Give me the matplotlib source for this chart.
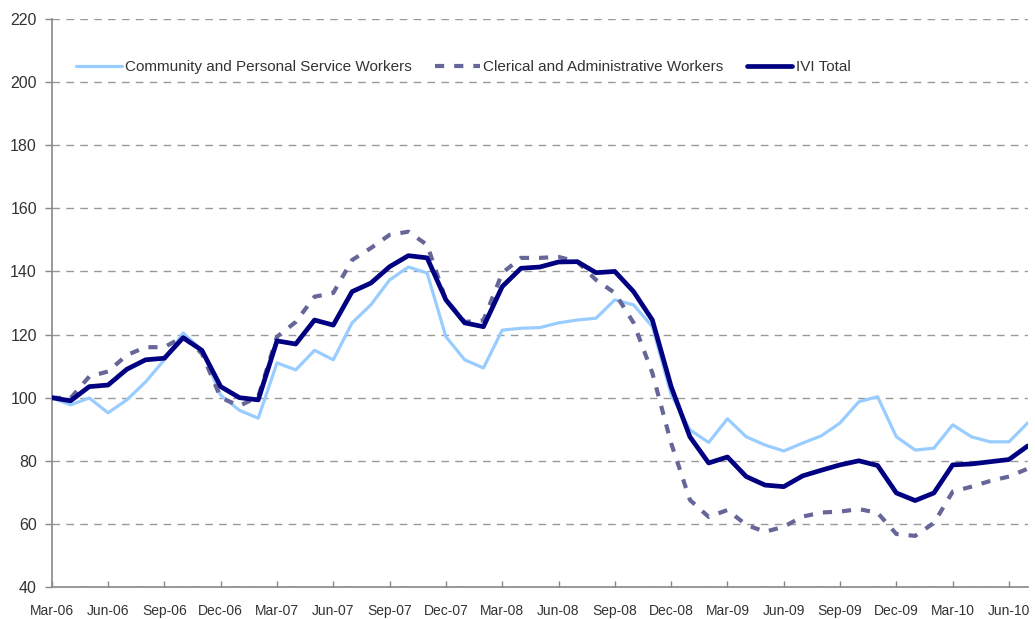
import matplotlib
matplotlib.use("Agg")
import matplotlib.pyplot as plt
from matplotlib import font_manager

months = ["Mar-06","Apr-06","May-06","Jun-06","Jul-06","Aug-06","Sep-06","Oct-06","Nov-06","Dec-06","Jan-07","Feb-07",
          "Mar-07","Apr-07","May-07","Jun-07","Jul-07","Aug-07","Sep-07","Oct-07","Nov-07","Dec-07","Jan-08","Feb-08",
          "Mar-08","Apr-08","May-08","Jun-08","Jul-08","Aug-08","Sep-08","Oct-08","Nov-08","Dec-08","Jan-09","Feb-09",
          "Mar-09","Apr-09","May-09","Jun-09","Jul-09","Aug-09","Sep-09","Oct-09","Nov-09","Dec-09","Jan-10","Feb-10",
          "Mar-10","Apr-10","May-10","Jun-10","Jul-10"]

community = [100, 97.7, 99.9, 95.2, 99.3, 105, 112, 120.5, 115, 100.8, 96, 93.5,
             111, 108.8, 115, 112, 123.7, 129.4, 137.3, 141.4, 139.5, 119.3, 112, 109.4,
             121.4, 122, 122.2, 123.7, 124.6, 125.2, 131, 129.4, 122.5, 101, 89.8, 85.8,
             93.3, 87.6, 85, 83.1, 85.6, 87.9, 92, 98.7, 100.3, 87.6, 83.4, 84,
             91.4, 87.6, 86, 86, 92]

clerical = [100, 99.8, 106.7, 108.3, 113.5, 116, 116, 119.3, 114, 100, 97.4, 100.3,
            119.3, 124, 132, 133.2, 143.6, 147.4, 151.6, 152.6, 148.4, 131, 124, 124.5,
            139.5, 144.3, 144.3, 144.6, 143.1, 137.3, 133.2, 123.7, 107.8, 85.6, 67.6, 62.2,
            64.4, 59.7, 57.5, 59.1, 62.3, 63.6, 63.9, 64.7, 63.5, 56.8, 56.2, 60.3,
            70.2, 71.8, 73.6, 75, 77.5]

ivi_total = [100, 99, 103.5, 104, 109, 112, 112.5, 119, 115, 103.5, 100, 99.3,
             118, 117, 124.6, 123, 133.6, 136.3, 141.5, 145, 144.3, 131, 123.7, 122.5,
             135.2, 141, 141.4, 143, 143.1, 139.6, 140, 133.6, 124.6, 103.5, 87.6, 79.3,
             81.2, 75, 72.3, 71.8, 75.2, 77, 78.7, 80, 78.5, 69.8, 67.4, 69.8,
             78.7, 79, 79.7, 80.4, 84.7]

series_names = ["Community and Personal Service Workers",
                "Clerical and Administrative Workers",
                "IVI Total"]

y_ticks = [40, 60, 80, 100, 120, 140, 160, 180, 200, 220]

installed = {f.name for f in font_manager.fontManager.ttflist}
fam = "Liberation Sans Narrow" if "Liberation Sans Narrow" in installed else "Liberation Sans"
plt.rcParams["font.family"] = [fam, "DejaVu Sans"]

fig = plt.figure(figsize=(10.35, 6.19), dpi=100)
ax = fig.add_axes([0.05, 0.0517, 0.943, 0.9176])

x = list(range(len(months)))
ax.plot(x, community, color="#99CCFF", lw=2.3, solid_joinstyle="round", solid_capstyle="round",
        label=series_names[0], zorder=3)
ax.plot(x, clerical, color="#666699", lw=3.0, linestyle=(0, (2.2, 2.4)),
        label=series_names[1], zorder=4)
ax.plot(x, ivi_total, color="#000080", lw=3.4, solid_joinstyle="round", solid_capstyle="round",
        label=series_names[2], zorder=5)

ax.set_xlim(0, len(months) - 1)
ax.set_ylim(40, 220)
ax.set_yticks(y_ticks)
ax.set_xticks(x[::3])
ax.set_xticklabels(months[::3])

ax.grid(axis="y", color="#999999", linestyle=(0, (5.5, 4.5)), lw=1.0)
ax.set_axisbelow(True)
for s in ["top", "right"]:
    ax.spines[s].set_visible(False)
for s in ["left", "bottom"]:
    ax.spines[s].set_color("#888888")
    ax.spines[s].set_linewidth(1.2)
ax.tick_params(axis="y", direction="out", color="#888888", width=1.0, length=4.7,
               labelcolor="#333333", labelsize=11.5, pad=6)
ax.tick_params(axis="x", direction="in", color="#888888", width=1.0, length=4,
               labelcolor="#333333", labelsize=10, pad=12)

leg = ax.legend(loc="center left", bbox_to_anchor=(76 / 1035, 1 - 67 / 619),
                bbox_transform=fig.transFigure, ncol=3, frameon=False,
                fontsize=11, handlelength=3.0, handletextpad=0.2,
                columnspacing=1.5, borderpad=0, borderaxespad=0)
for t in leg.get_texts():
    t.set_color("#333333")

fig.savefig("out.png", dpi=100)
